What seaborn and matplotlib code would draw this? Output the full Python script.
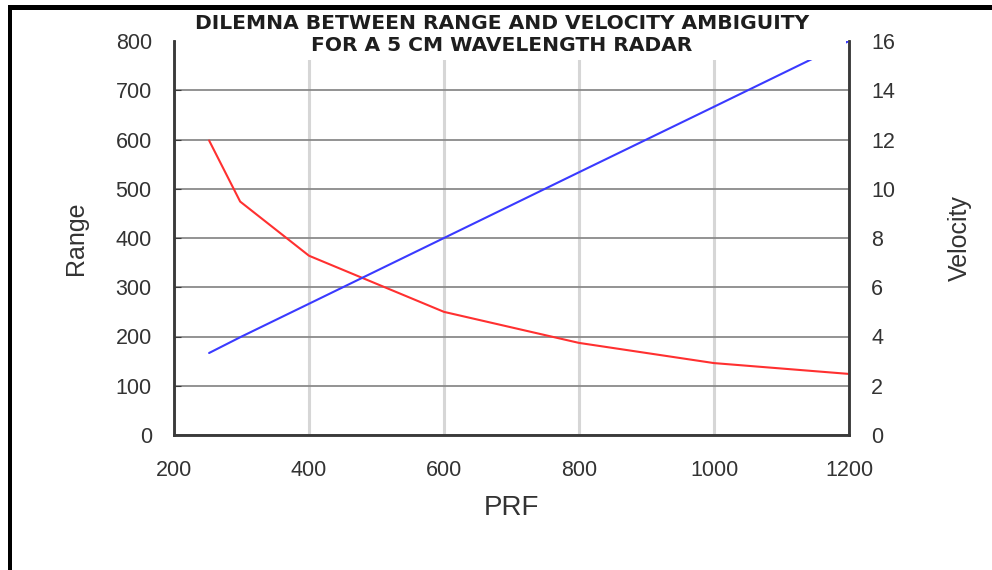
import numpy as np
import pandas as pd
import seaborn as sns
import matplotlib.pyplot as plt
from matplotlib.patches import Rectangle

# values
prf = [252, 298, 400, 600, 800, 1000, 1200]
range_km = [598, 474, 364, 250, 187, 146, 124]
velocity = [3.33, 3.97, 5.33, 8.0, 10.67, 13.33, 16.0]

range_ticks = [0, 100, 200, 300, 400, 500, 600, 700, 800]
velocity_ticks = [0, 2, 4, 6, 8, 10, 12, 14, 16]
prf_ticks = [200, 400, 600, 800, 1000, 1200]

title_text = "DILEMNA BETWEEN RANGE AND VELOCITY AMBIGUITY\nFOR A 5 CM WAVELENGTH RADAR"

df = pd.DataFrame({"PRF": prf, "Range": range_km, "Velocity": velocity})

sns.set_style("white")
plt.rcParams["font.family"] = ["Liberation Sans", "DejaVu Sans"]
text_col = "#333333"

fig = plt.figure(figsize=(9.92, 5.70), dpi=100)
ax = fig.add_axes([174 / 992, 1 - 435 / 570, (849 - 174) / 992, (435 - 41) / 570])
ax2 = ax.twinx()

sns.lineplot(data=df, x="PRF", y="Range", ax=ax, color="#ff3030", linewidth=1.5)
sns.lineplot(data=df, x="PRF", y="Velocity", ax=ax2, color="#3a3aff", linewidth=1.5)

ax.set_xlim(200, 1200)
ax.set_ylim(0, 800)
ax2.set_ylim(0, 16)
ax.set_xticks(prf_ticks)
ax.set_yticks(range_ticks)
ax2.set_yticks(velocity_ticks)

# grid: darker horizontals, light verticals
ax.yaxis.grid(True, color="#8a8a8a", linewidth=1.3)
ax.xaxis.grid(True, color="#d6d6d6", linewidth=2.2)
ax.set_axisbelow(True)

for a in (ax, ax2):
    for side in ("left", "right", "bottom"):
        a.spines[side].set_color("#3a3a3a")
        a.spines[side].set_linewidth(1.8)
    a.spines["top"].set_visible(False)

ax.tick_params(axis="both", direction="in", length=5, color="#3a3a3a",
               labelsize=15.5, labelcolor=text_col)
ax.tick_params(axis="y", pad=16)
ax.tick_params(axis="x", pad=18)
ax2.tick_params(axis="y", direction="in", length=0, labelsize=15.5,
                labelcolor=text_col, pad=16)

ax.set_xlabel("PRF", fontsize=20, color=text_col, labelpad=10)
ax.set_ylabel("Range", fontsize=18, color=text_col, labelpad=20)
ax2.set_ylabel("Velocity", fontsize=18, color=text_col, labelpad=38)

# white title box that hides the top of the plot, as in the original
fig.patches.append(Rectangle((176 / 992, 1 - 60 / 570), (846 - 176) / 992, 50 / 570,
                             transform=fig.transFigure, facecolor="white",
                             edgecolor="none", zorder=2.5))
fig.text(502 / 992, 1 - 34.5 / 570, title_text, ha="center", va="center",
         fontsize=14.6, fontweight="bold", color="#1e1e1e",
         family=["DejaVu Sans"], linespacing=1.2, zorder=3)

# black frame on top and left edge
fig.patches.append(Rectangle((8 / 992, 0), 4 / 992, 1 - 5 / 570,
                             transform=fig.transFigure, facecolor="black",
                             edgecolor="none", zorder=4))
fig.patches.append(Rectangle((8 / 992, 1 - 10 / 570), 1, 5 / 570,
                             transform=fig.transFigure, facecolor="black",
                             edgecolor="none", zorder=4))

fig.savefig("out.png", dpi=100)
